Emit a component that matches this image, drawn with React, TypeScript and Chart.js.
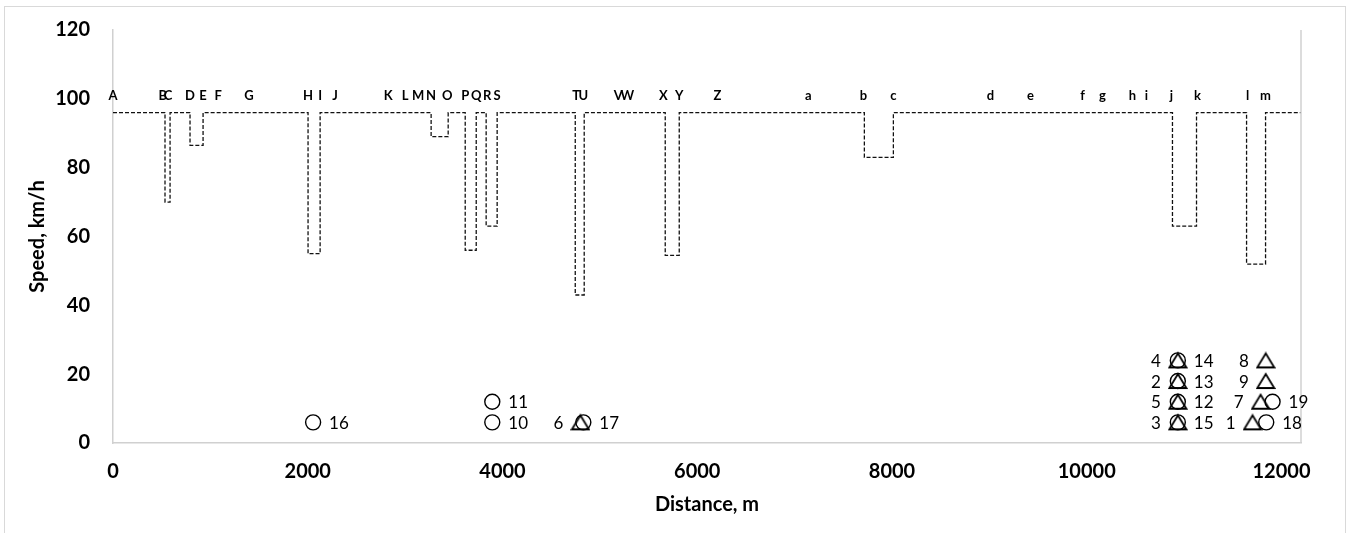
import React, { useEffect, useRef } from "react";
import { Chart, registerables } from "chart.js";

Chart.register(...registerables);

const xMin = 0;
const xMax = 12200;
const xTicks = [0, 2000, 4000, 6000, 8000, 10000, 12000];
const yMin = 0;
const yMax = 120;
const yTicks = [0, 20, 40, 60, 80, 100, 120];

// speed limit profile (step changes): distance in m, speed in km/h
const stepDistances = [0, 534, 586, 791, 925, 2003, 2127, 3267, 3442, 3617, 3730, 3832, 3945, 4747, 4839, 5671, 5815, 7716, 8014, 10880, 11127, 11641, 11836, 12200];
const stepSpeeds = [96, 70, 96, 86.5, 96, 55, 96, 89, 96, 56, 96, 63, 96, 43, 96, 54.5, 96, 83, 96, 63, 96, 52, 96, 96];

// letter labels along the top
const letterNames = ["A", "B", "C", "D", "E", "F", "G", "H", "I", "J", "K", "L", "M", "N", "O", "P", "Q", "R", "S", "T", "U", "V", "W", "X", "Y", "Z", "a", "b", "c", "d", "e", "f", "g", "h", "i", "j", "k", "l", "m"];
const letterDistances = [0, 511, 565, 791, 925, 1079, 1397, 2003, 2127, 2281, 2825, 3000, 3134, 3267, 3432, 3617, 3730, 3843, 3945, 4757, 4829, 5189, 5281, 5651, 5815, 6206, 7141, 7706, 8014, 9011, 9422, 9956, 10162, 10469, 10613, 10870, 11137, 11651, 11836];
const letterSpeed = 101;

// triangle markers (label on the left)
const triangleIds = ["1", "2", "3", "4", "5", "6", "7", "8", "9"];
const triangleDistances = [11702, 10935, 10935, 10935, 10935, 4800, 11785, 11838, 11838];
const triangleSpeeds = [6, 18, 6, 24, 12, 6, 12, 24, 18];

// circle markers (label on the right)
const circleIds = ["10", "11", "12", "13", "14", "15", "16", "17", "18", "19"];
const circleDistances = [3895, 3895, 10935, 10935, 10935, 10935, 2055, 4830, 11843, 11908];
const circleSpeeds = [6, 12, 12, 18, 24, 6, 6, 6, 6, 12];

const FONT = "Lato, 'Open Sans', 'Liberation Sans', sans-serif";

function makeTriangle(): HTMLCanvasElement {
  const c = document.createElement("canvas");
  c.width = 20;
  c.height = 18;
  const g = c.getContext("2d")!;
  g.strokeStyle = "#000";
  g.lineWidth = 1.8;
  g.lineJoin = "miter";
  g.beginPath();
  g.moveTo(10, 2);
  g.lineTo(18.5, 16);
  g.lineTo(1.5, 16);
  g.closePath();
  g.stroke();
  return c;
}

const overlayPlugin = {
  id: "overlay",
  afterDatasetsDraw(chart: any) {
    const { ctx, chartArea, scales } = chart;
    const xs = scales.x;
    const ys = scales.y;
    ctx.save();
    // right border of plot area
    ctx.strokeStyle = "#d0d0d0";
    ctx.lineWidth = 1.5;
    ctx.beginPath();
    ctx.moveTo(chartArea.right, chartArea.top);
    ctx.lineTo(chartArea.right, chartArea.bottom);
    ctx.stroke();

    // letters
    ctx.fillStyle = "#000";
    ctx.font = `bold 13px ${FONT}`;
    ctx.textAlign = "center";
    ctx.textBaseline = "middle";
    letterNames.forEach((n, i) => {
      ctx.fillText(n, xs.getPixelForValue(letterDistances[i]), ys.getPixelForValue(letterSpeed));
    });

    // marker labels
    ctx.font = `17px ${FONT}`;
    ctx.textAlign = "right";
    triangleIds.forEach((n, i) => {
      ctx.fillText(n, xs.getPixelForValue(triangleDistances[i]) - 17, ys.getPixelForValue(triangleSpeeds[i]) + 1);
    });
    ctx.textAlign = "left";
    circleIds.forEach((n, i) => {
      ctx.fillText(n, xs.getPixelForValue(circleDistances[i]) + 16, ys.getPixelForValue(circleSpeeds[i]) + 1);
    });
    ctx.restore();
  },
};

export default function App() {
  const ref = useRef<HTMLCanvasElement | null>(null);

  useEffect(() => {
    if (!ref.current) return;
    const tri = makeTriangle();
    const chart = new Chart(ref.current, {
      type: "line",
      data: {
        datasets: [
          {
            label: "Speed limit",
            data: stepDistances.map((d, i) => ({ x: d, y: stepSpeeds[i] })),
            stepped: true,
            borderColor: "#111",
            borderWidth: 1.3,
            borderDash: [4, 2],
            pointRadius: 0,
            fill: false,
          } as any,
          {
            label: "Triangles",
            data: triangleDistances.map((d, i) => ({ x: d, y: triangleSpeeds[i] })),
            showLine: false,
            pointStyle: tri,
            pointRadius: 8,
            borderColor: "#000",
            backgroundColor: "rgba(0,0,0,0)",
          } as any,
          {
            label: "Circles",
            data: circleDistances.map((d, i) => ({ x: d, y: circleSpeeds[i] })),
            showLine: false,
            pointStyle: "circle",
            pointRadius: 7.5,
            pointBorderWidth: 1.4,
            borderColor: "#000",
            backgroundColor: "rgba(0,0,0,0)",
          } as any,
        ],
      },
      options: {
        animation: false,
        responsive: false,
        devicePixelRatio: 1,
        layout: { padding: { left: 0, top: 30, right: 50, bottom: 0 }, autoPadding: false } as any,
        plugins: {
          legend: { display: false },
          tooltip: { enabled: false },
        },
        scales: {
          x: {
            type: "linear",
            min: xMin,
            max: xMax,
            grid: { display: false, drawTicks: false },
            border: { display: true, color: "#d0d0d0", width: 1.5 },
            afterBuildTicks: (s: any) => {
              s.ticks = xTicks.map((v) => ({ value: v }));
            },
            ticks: {
              padding: 17,
              color: "#000",
              font: { family: FONT, size: 20, weight: "bold" },
              maxRotation: 0,
              autoSkip: false,
              callback: (v: any) => String(v),
            },
            title: {
              display: true,
              text: "Distance, m",
              color: "#000",
              font: { family: FONT, size: 20, weight: "bold" },
              padding: { top: 0, bottom: 16 },
            },
            afterFit: (s: any) => {
              s.height = 90;
              s.paddingLeft = 0;
              s.paddingRight = 0;
              s.paddingTop = 0;
              s.paddingBottom = 0;
            },
          } as any,
          y: {
            type: "linear",
            min: yMin,
            max: yMax,
            grid: { display: false, drawTicks: false },
            border: { display: true, color: "#d0d0d0", width: 1.5 },
            afterBuildTicks: (s: any) => {
              s.ticks = yTicks.map((v) => ({ value: v }));
            },
            ticks: {
              padding: 23,
              color: "#000",
              font: { family: FONT, size: 20, weight: "bold" },
              callback: (v: any) => String(v),
            },
            title: {
              display: true,
              text: "Speed, km/h",
              color: "#000",
              font: { family: FONT, size: 20, weight: "bold" },
              padding: { top: 26, bottom: 0 },
            },
            afterFit: (s: any) => {
              s.width = 113;
              s.paddingTop = 0;
              s.paddingBottom = 0;
              s.paddingLeft = 0;
              s.paddingRight = 0;
            },
          } as any,
        },
      },
      plugins: [overlayPlugin],
    });
    return () => chart.destroy();
  }, []);

  return (
    <div style={{ position: "absolute", left: 0, top: 0, width: 1351, height: 533, overflow: "hidden", background: "#fff" }}>
      <div
        style={{
          position: "absolute",
          left: 4,
          top: 6,
          width: 1342,
          height: 560,
          border: "1.5px solid #d9d9d9",
          boxSizing: "border-box",
        }}
      />
      <canvas ref={ref} width={1351} height={533} style={{ position: "absolute", left: 0, top: 0, width: 1351, height: 533 }} />
    </div>
  );
}
